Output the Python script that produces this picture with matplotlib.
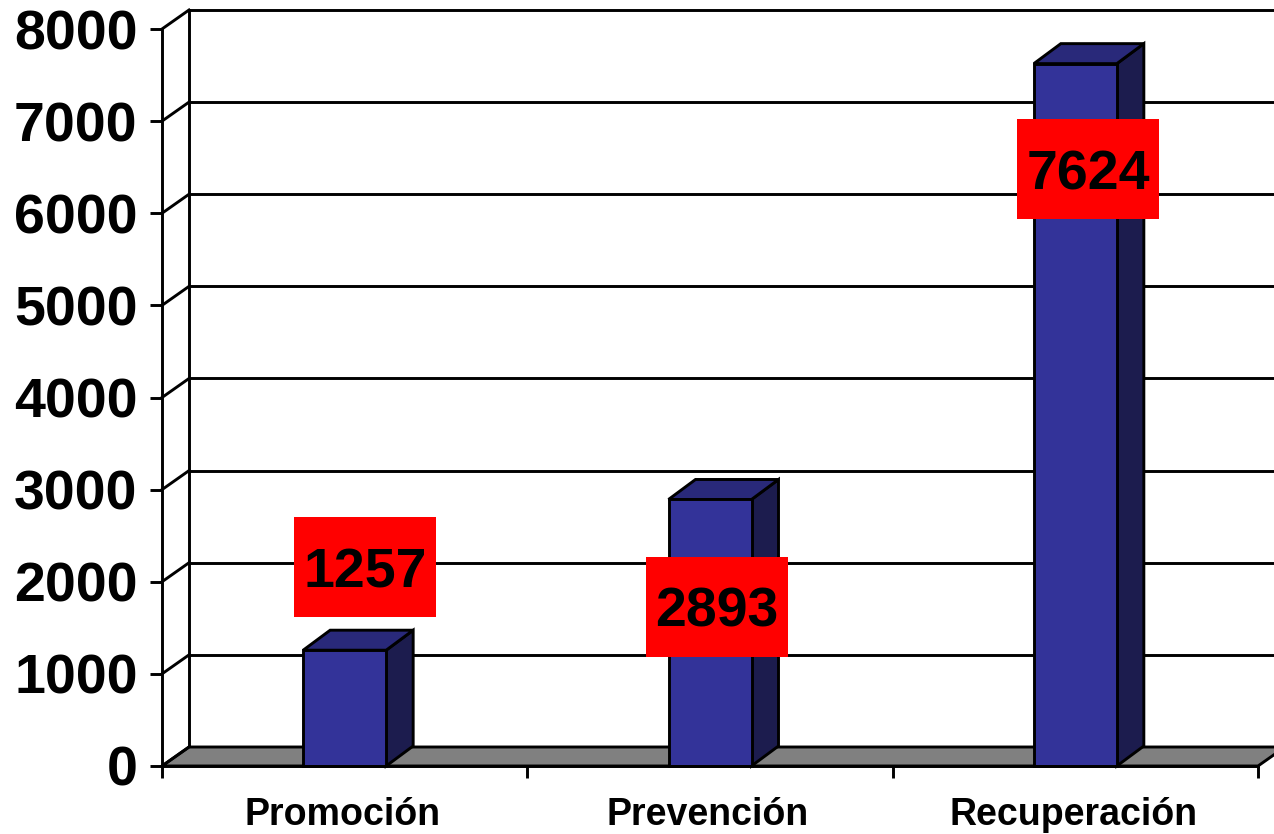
import matplotlib
matplotlib.use('Agg')
import matplotlib.pyplot as plt
from matplotlib.patches import Polygon, Rectangle
import matplotlib.transforms as mtransforms

# ---- data ----
categories = ['Promoción', 'Prevención', 'Recuperación']
values = [1257, 2893, 7624]
y_ticks = [0, 1000, 2000, 3000, 4000, 5000, 6000, 7000, 8000]
y_max = 8000

# label box anchors (data coordinates) -- placement only
label_anchor = [(0.556, 2160), (1.519, 1731), (2.535, 6475)]

plt.rcParams['font.family'] = ['Liberation Sans', 'DejaVu Sans']
plt.rcParams['font.weight'] = 'bold'

W, H, DPI = 1274, 834, 100
fig = plt.figure(figsize=(W / DPI, H / DPI), dpi=DPI)
ax_w, ax_h = 1096 / W, 737 / H
ax = fig.add_axes([162 / W, (H - 766) / H, ax_w, ax_h])
n = len(categories)
ax.set_xlim(0, n)
ax.set_ylim(0, y_max)

px_x = ax_w * W / n
px_y = ax_h * H / y_max
wall_dx, wall_dy = 27 / px_x, 19 / px_y
bar_dx, bar_dy = 27 / px_x, 20 / px_y
bar_w = 83 / px_x

LW = 2.1
# floor
floor = Polygon([(0, 0), (n, 0), (n + wall_dx, wall_dy), (wall_dx, wall_dy)],
                closed=True, facecolor='#808080', edgecolor='black', lw=LW,
                zorder=1, clip_on=False)
ax.add_patch(floor)

# back wall gridlines and left wall diagonals
for t in y_ticks:
    if t > 0:
        ax.plot([wall_dx, n + wall_dx + 1], [t + wall_dy, t + wall_dy], color='black',
                lw=LW, zorder=0.5, clip_on=False, solid_capstyle='butt')
    ax.plot([0, wall_dx], [t, t + wall_dy], color='black', lw=LW, zorder=2,
            clip_on=False)
ax.plot([wall_dx, wall_dx], [wall_dy, y_max + wall_dy], color='black', lw=LW,
        zorder=0.6, clip_on=False)

# bars
front_c, top_c, side_c = '#333399', '#29297a', '#1c1c4e'
for i, v in enumerate(values):
    x0 = i + 0.5 - bar_w / 2
    x1 = x0 + bar_w
    ax.add_patch(Polygon([(x1, 0), (x1 + bar_dx, bar_dy), (x1 + bar_dx, v + bar_dy), (x1, v)],
                         closed=True, facecolor=side_c, edgecolor='black', lw=LW,
                         zorder=3, clip_on=False, joinstyle='miter'))
    ax.add_patch(Polygon([(x0, v), (x1, v), (x1 + bar_dx, v + bar_dy), (x0 + bar_dx, v + bar_dy)],
                         closed=True, facecolor=top_c, edgecolor='black', lw=LW,
                         zorder=3, clip_on=False, joinstyle='miter'))
    ax.add_patch(Rectangle((x0, 0), bar_w, v, facecolor=front_c, edgecolor='black',
                           lw=LW, zorder=3.1, clip_on=False, joinstyle='miter'))

# value labels
for (xa, ya), v in zip(label_anchor, values):
    tr = mtransforms.IdentityTransform() + mtransforms.ScaledTranslation(xa, ya, ax.transData)
    ax.add_patch(Rectangle((-71, -50), 142, 100, transform=tr, facecolor='#ff0000',
                           edgecolor='none', zorder=5, clip_on=False))
    ax.annotate(str(v), xy=(xa, ya), xytext=(0, -20), textcoords='offset pixels',
                ha='center', va='baseline', fontsize=40, fontweight='bold',
                color='black', zorder=6, annotation_clip=False)

# category labels
for i, c in enumerate(categories):
    ax.annotate(c, xy=(i + 0.5, 0), xytext=(-2, -59), textcoords='offset pixels',
                ha='center', va='baseline', fontsize=27, fontweight='bold',
                color='black', annotation_clip=False)

# axes styling
for s in ['top', 'right']:
    ax.spines[s].set_visible(False)
ax.spines['left'].set_linewidth(LW)
ax.spines['bottom'].set_linewidth(LW)
ax.spines['left'].set_zorder(2)
ax.spines['bottom'].set_zorder(4)
ax.set_yticks(y_ticks)
ax.set_yticklabels([str(t) for t in y_ticks])
ax.set_xticks(range(n + 1))
ax.set_xticklabels([])
ax.tick_params(axis='y', direction='out', length=8.6, width=LW, pad=9, labelsize=40)
ax.tick_params(axis='x', direction='out', length=8.6, width=LW)
for lab in ax.get_yticklabels():
    lab.set_fontweight('bold')
ax.patch.set_visible(False)

fig.savefig('out.png', dpi=DPI)
